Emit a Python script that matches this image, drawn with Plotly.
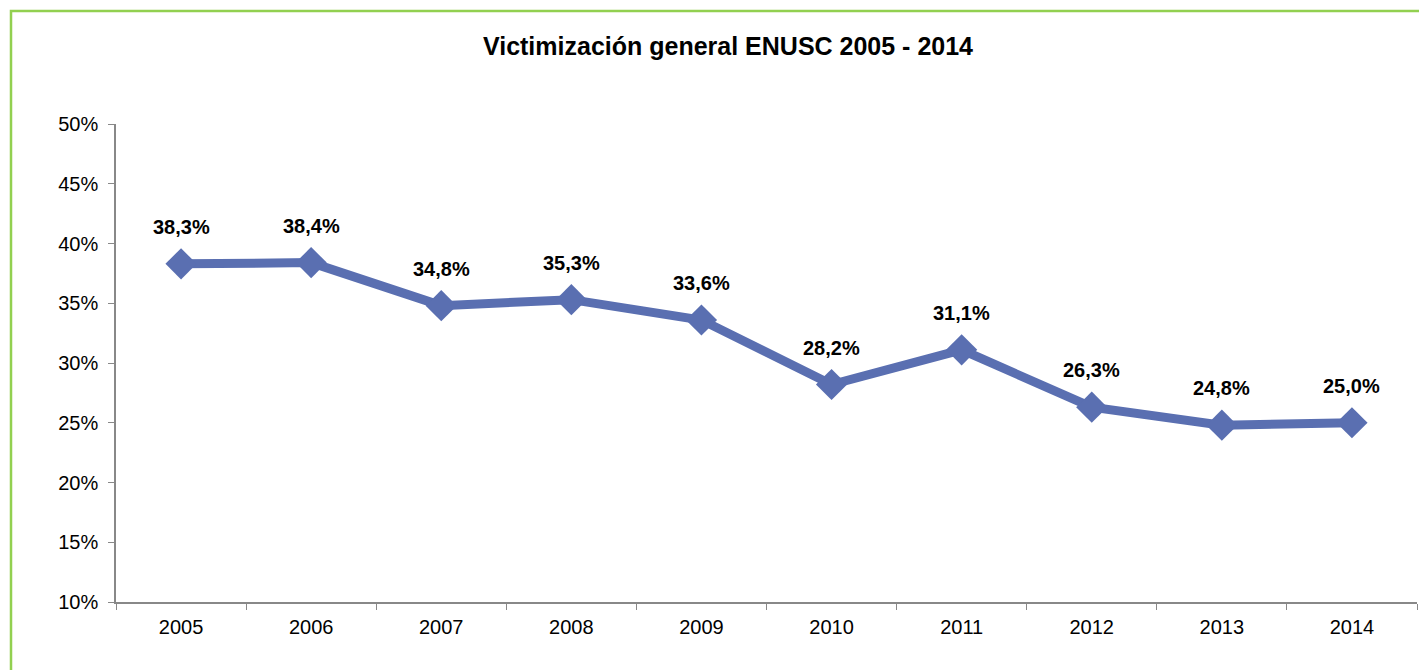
import plotly.graph_objects as go

years = ["2005", "2006", "2007", "2008", "2009", "2010", "2011", "2012", "2013", "2014"]
victimization = [0.383, 0.384, 0.348, 0.353, 0.336, 0.282, 0.311, 0.263, 0.248, 0.250]
labels = ["38,3%", "38,4%", "34,8%", "35,3%", "33,6%", "28,2%", "31,1%", "26,3%", "24,8%", "25,0%"]
y_ticks = [0.10, 0.15, 0.20, 0.25, 0.30, 0.35, 0.40, 0.45, 0.50]

OFF = 8  # page body margin
W, H = 1427 - OFF, 670 - OFF
ML, MT = 116 - OFF, 124 - OFF
MR = W - (1417 - OFF)
MB = H - (602 - OFF)
PW, PH = W - ML - MR, H - MT - MB

line_color = "#5A6FB1"
font_family = "Liberation Sans, Arial, sans-serif"

fig = go.Figure()
fig.add_trace(go.Scatter(
    x=years, y=victimization, mode="lines+markers",
    line=dict(color=line_color, width=9),
    marker=dict(symbol="diamond", size=24, color=line_color),
    hoverinfo="skip", showlegend=False,
))

# category index positions (numeric-looking category names would be misread)
for i, (v, t) in enumerate(zip(victimization, labels)):
    fig.add_annotation(x=i, y=v, text="<b>" + t + "</b>", showarrow=False, yshift=37,
                       xref="x", yref="y",
                       font=dict(family=font_family, size=20, color="black"))

# green outer border (extends beyond image right/bottom)
fig.add_shape(type="rect", xref="paper", yref="paper",
              x0=(11 - OFF - ML) / PW, x1=(W + 20 - ML) / PW,
              y0=-(MB + 20) / PH, y1=1 + (MT - (11 - OFF)) / PH,
              line=dict(color="#92D050", width=2.5), layer="below")

fig.update_layout(
    width=W, height=H,
    margin=dict(l=ML, r=MR, t=MT, b=MB),
    paper_bgcolor="white", plot_bgcolor="white",
    separators=",.",
    font=dict(family=font_family, size=20, color="black"),
    title=dict(text="<b>Victimización general ENUSC 2005 - 2014</b>",
               x=(728 - OFF) / W, xanchor="center", y=1 - (46 - OFF) / H, yanchor="middle",
               font=dict(family=font_family, size=25, color="black")),
    xaxis=dict(type="category", tickson="boundaries", ticks="outside", ticklen=6,
               tickcolor="#888888", showline=True, linecolor="#888888", linewidth=1.5,
               showgrid=False, tickfont=dict(size=20), range=[-0.5, 9.5],
               ticklabelstandoff=6),
    yaxis=dict(range=[0.10, 0.50], tickvals=y_ticks, tickformat=".0%", ticks="outside",
               ticklen=6, tickcolor="#888888", showline=True, linecolor="#888888",
               linewidth=1.5, showgrid=False, zeroline=False, tickfont=dict(size=20),
               ticklabelstandoff=6),
)

fig.write_html("out.html")
